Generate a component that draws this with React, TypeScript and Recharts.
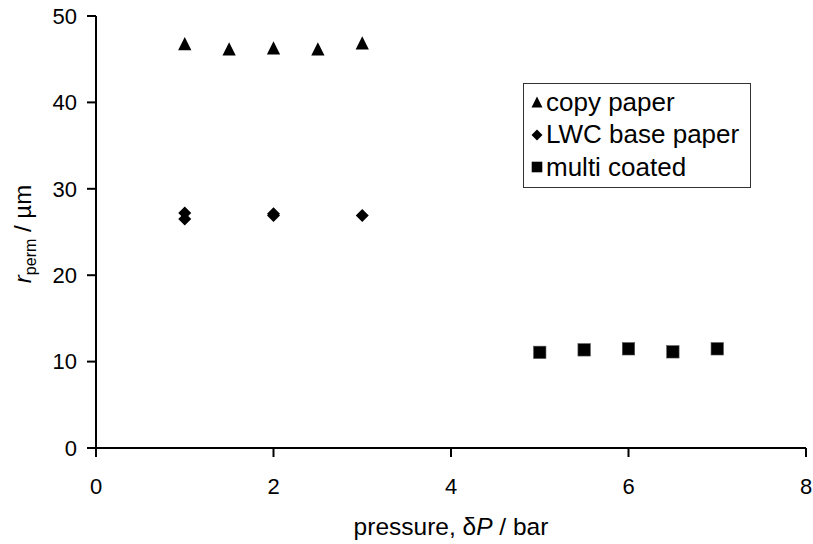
import React from 'react';
import { ScatterChart, Scatter, XAxis, YAxis, Legend, Label } from 'recharts';

const copyX = [1, 1.5, 2, 2.5, 3];
const copyY = [46.8, 46.2, 46.3, 46.2, 46.9];
const lwcX = [1, 1, 2, 2, 3];
const lwcY = [27.2, 26.5, 26.9, 27.1, 26.9];
const multiX = [5, 5.5, 6, 6.5, 7];
const multiY = [11.07, 11.36, 11.48, 11.13, 11.48];
const xTicks = [0, 2, 4, 6, 8];
const yTicks = [0, 10, 20, 30, 40, 50];
const seriesNames = ['copy paper', 'LWC base paper', 'multi coated'];

const zip = (xs: number[], ys: number[]) => xs.map((x, i) => ({ x, y: ys[i] }));
const copyData = zip(copyX, copyY);
const lwcData = zip(lwcX, lwcY);
const multiData = zip(multiX, multiY);

const FONT = '"Liberation Sans", Arial, sans-serif';

const Triangle = (props: any) => {
  const { cx, cy } = props;
  const h = 6.6;
  return <polygon points={`${cx},${cy - h} ${cx + h},${cy + h} ${cx - h},${cy + h}`} fill="#000" />;
};
const Diamond = (props: any) => {
  const { cx, cy } = props;
  const h = 6.5;
  return <polygon points={`${cx},${cy - h} ${cx + h},${cy} ${cx},${cy + h} ${cx - h},${cy}`} fill="#000" />;
};
const Square = (props: any) => {
  const { cx, cy } = props;
  const h = 6.2;
  return <rect x={cx - h} y={cy - h} width={2 * h} height={2 * h} fill="#000" stroke="#555" strokeWidth={0.6} />;
};

const markerSvg = (i: number) => {
  const c = 6;
  if (i === 0) return <polygon points={`${c},${c - 5.5} ${c + 5.5},${c + 5.5} ${c - 5.5},${c + 5.5}`} fill="#000" />;
  if (i === 1) return <polygon points={`${c},${c - 5.5} ${c + 5.5},${c} ${c},${c + 5.5} ${c - 5.5},${c}`} fill="#000" />;
  return <rect x={c - 5.3} y={c - 5.3} width={10.6} height={10.6} fill="#000" />;
};

const renderLegend = () => (
  <div
    style={{
      width: 226,
      height: 101,
      border: '1px solid #333',
      background: '#fff',
      boxSizing: 'content-box',
      paddingTop: 2,
      fontFamily: FONT,
      fontSize: 26,
      color: '#000',
    }}
  >
    {seriesNames.map((n, i) => (
      <div key={n} style={{ height: 32.5, display: 'flex', alignItems: 'center', whiteSpace: 'nowrap' }}>
        <svg width={12} height={12} style={{ marginLeft: 7, marginRight: 3, overflow: 'visible' }}>
          {markerSvg(i)}
        </svg>
        <span>{n}</span>
      </div>
    ))}
  </div>
);

const XTitle = (props: any) => {
  const { viewBox } = props;
  const cx = viewBox.x + viewBox.width / 2;
  return (
    <text x={cx} y={viewBox.y + 87} textAnchor="middle" fontFamily={FONT} fontSize={24.5} fill="#000">
      <tspan>pressure, δ</tspan>
      <tspan fontStyle="italic">P</tspan>
      <tspan>{' / bar'}</tspan>
    </text>
  );
};

const YTitle = (props: any) => {
  const { viewBox } = props;
  const x = 31;
  const y = viewBox.y + viewBox.height / 2 + 2;
  return (
    <text x={x} y={y} transform={`rotate(-90 ${x} ${y})`} textAnchor="middle" fontFamily={FONT} fontSize={24} fill="#000">
      <tspan fontStyle="italic">r</tspan>
      <tspan dy={5} fontSize={16}>perm</tspan>
      <tspan dy={-5}>{' / µm'}</tspan>
    </text>
  );
};

export default function App() {
  return (
    <div style={{ position: 'absolute', left: 0, top: 0, background: '#fff' }}>
      <ScatterChart width={813} height={544} margin={{ top: 16, right: 7, bottom: 0, left: 0 }}>
        <XAxis
          type="number"
          dataKey="x"
          domain={[0, 8]}
          ticks={xTicks}
          height={96}
          axisLine={{ stroke: '#000', strokeWidth: 2 }}
          tickLine={{ stroke: '#000', strokeWidth: 2 }}
          tickSize={9}
          tickMargin={21}
          tick={{ fill: '#000', fontSize: 22, fontFamily: FONT }}
          interval={0}
        >
          <Label content={<XTitle />} />
        </XAxis>
        <YAxis
          type="number"
          dataKey="y"
          domain={[0, 50]}
          ticks={yTicks}
          width={96}
          axisLine={{ stroke: '#000', strokeWidth: 2 }}
          tickLine={{ stroke: '#000', strokeWidth: 2 }}
          tickSize={9}
          tickMargin={10}
          tick={{ fill: '#000', fontSize: 22, fontFamily: FONT }}
          interval={0}
        >
          <Label content={<YTitle />} />
        </YAxis>
        <Legend
          layout="vertical"
          verticalAlign="middle"
          align="center"
          content={renderLegend}
          wrapperStyle={{ left: 523, top: 83, width: 228, height: 104 }}
        />
        <Scatter name={seriesNames[0]} data={copyData} shape={<Triangle />} isAnimationActive={false} />
        <Scatter name={seriesNames[1]} data={lwcData} shape={<Diamond />} isAnimationActive={false} />
        <Scatter name={seriesNames[2]} data={multiData} shape={<Square />} isAnimationActive={false} />
      </ScatterChart>
    </div>
  );
}
